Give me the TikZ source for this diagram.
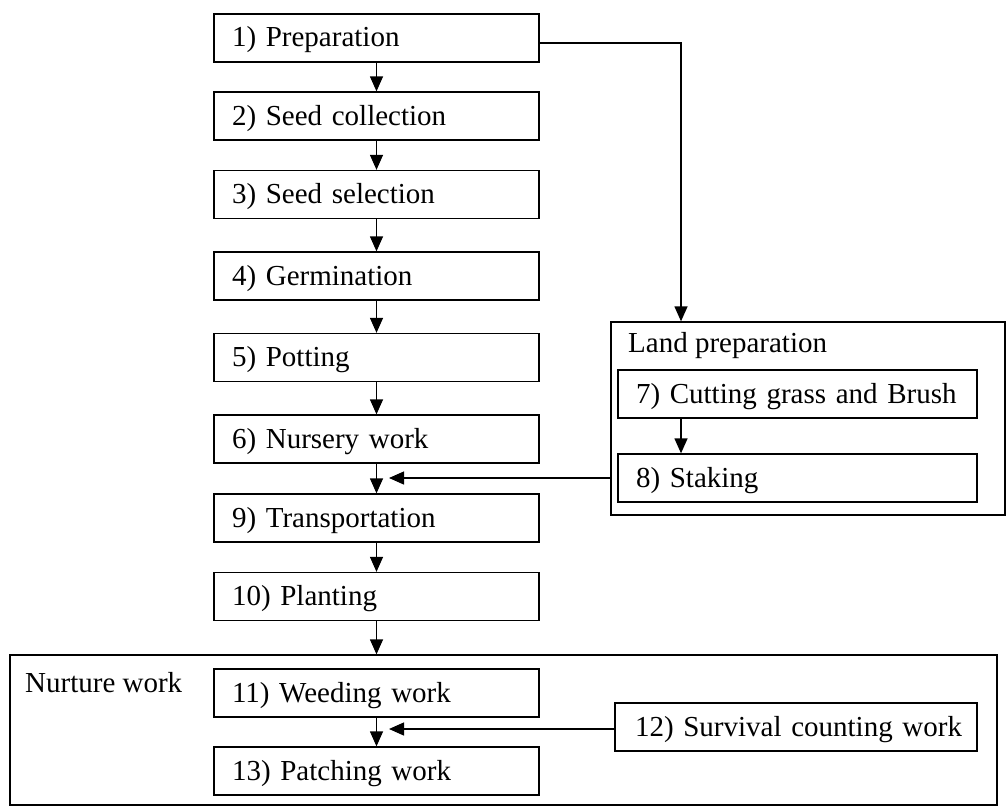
\documentclass[tikz,border=0pt]{standalone}
\usepackage{fontspec}
\setmainfont{Liberation Serif}
\usetikzlibrary{arrows.meta}
\begin{document}
\begin{tikzpicture}[x=1pt,y=-1pt,
  every node/.style={font=\fontsize{29}{34}\selectfont},
  stepbox/.style={draw, line width=1.3pt, minimum height=48pt, inner xsep=18pt, inner ysep=0pt,
    align=left, text height=25pt, text depth=7pt},
  leftbox/.style={stepbox, text width=289pt},
  rightbox/.style={stepbox, text width=323pt},
  group/.style={draw, line width=1.3pt, inner sep=0pt},
  lbl/.style={inner sep=0pt, anchor=west, text height=25pt, text depth=7pt},
  conn/.style={line width=1.3pt, -{Triangle[width=13pt,length=15pt]}}]
\useasboundingbox (0,0) rectangle (1008,808);

% group frames
\node[group, minimum width=394pt, minimum height=193pt] (land) at (808,418.5) {};
\node[group, minimum width=987pt, minimum height=150pt] (nurture) at (503.5,730) {};
\node[lbl] (landlbl) at (628,343) {Land preparation};
\node[lbl] (nurlbl) at (25,683) {Nurture work};

% left column
\node[leftbox] (b1) at (376.5,38) {1) Preparation};
\node[leftbox] (b2) at (376.5,116) {2) Seed collection};
\node[leftbox] (b3) at (376.5,194.5) {3) Seed selection};
\node[leftbox] (b4) at (376.5,276) {4) Germination};
\node[leftbox] (b5) at (376.5,357.5) {5) Potting};
\node[leftbox] (b6) at (376.5,439) {6) Nursery work};
\node[leftbox] (b9) at (376.5,518) {9) Transportation};
\node[leftbox] (b10) at (376.5,596.5) {10) Planting};
\node[leftbox] (b11) at (376.5,693) {11) Weeding work};
\node[leftbox] (b13) at (376.5,771) {13) Patching work};

% right boxes
\node[rightbox] (b7) at (797.5,394) {7) Cutting grass and Brush};
\node[rightbox] (b8) at (797.5,478) {8) Staking};
\node[stepbox, inner xsep=12pt, text width=338pt] (b12) at (796,727) {\hspace*{8pt}12) Survival counting work};

% connectors
\draw[conn] (b1) -- (b2);
\draw[conn] (b2) -- (b3);
\draw[conn] (b3) -- (b4);
\draw[conn] (b4) -- (b5);
\draw[conn] (b5) -- (b6);
\draw[conn] (b6) -- (b9);
\draw[conn] (b9) -- (b10);
\draw[conn] (b10.south) -- (b10.south |- nurture.north);
\draw[conn] (b11) -- (b13);
\draw[conn] (b7.south -| 681,0) -- (b8.north -| 681,0);

\coordinate (turn) at (681,43);
\draw[conn] (b1.east |- turn) -- (turn) -- (turn |- land.north);

\coordinate (tipA) at (389,478);
\draw[conn] (land.west |- tipA) -- (tipA);
\coordinate (tipB) at (389,729);
\draw[conn] (b12.west |- tipB) -- (tipB);
\end{tikzpicture}
\end{document}
